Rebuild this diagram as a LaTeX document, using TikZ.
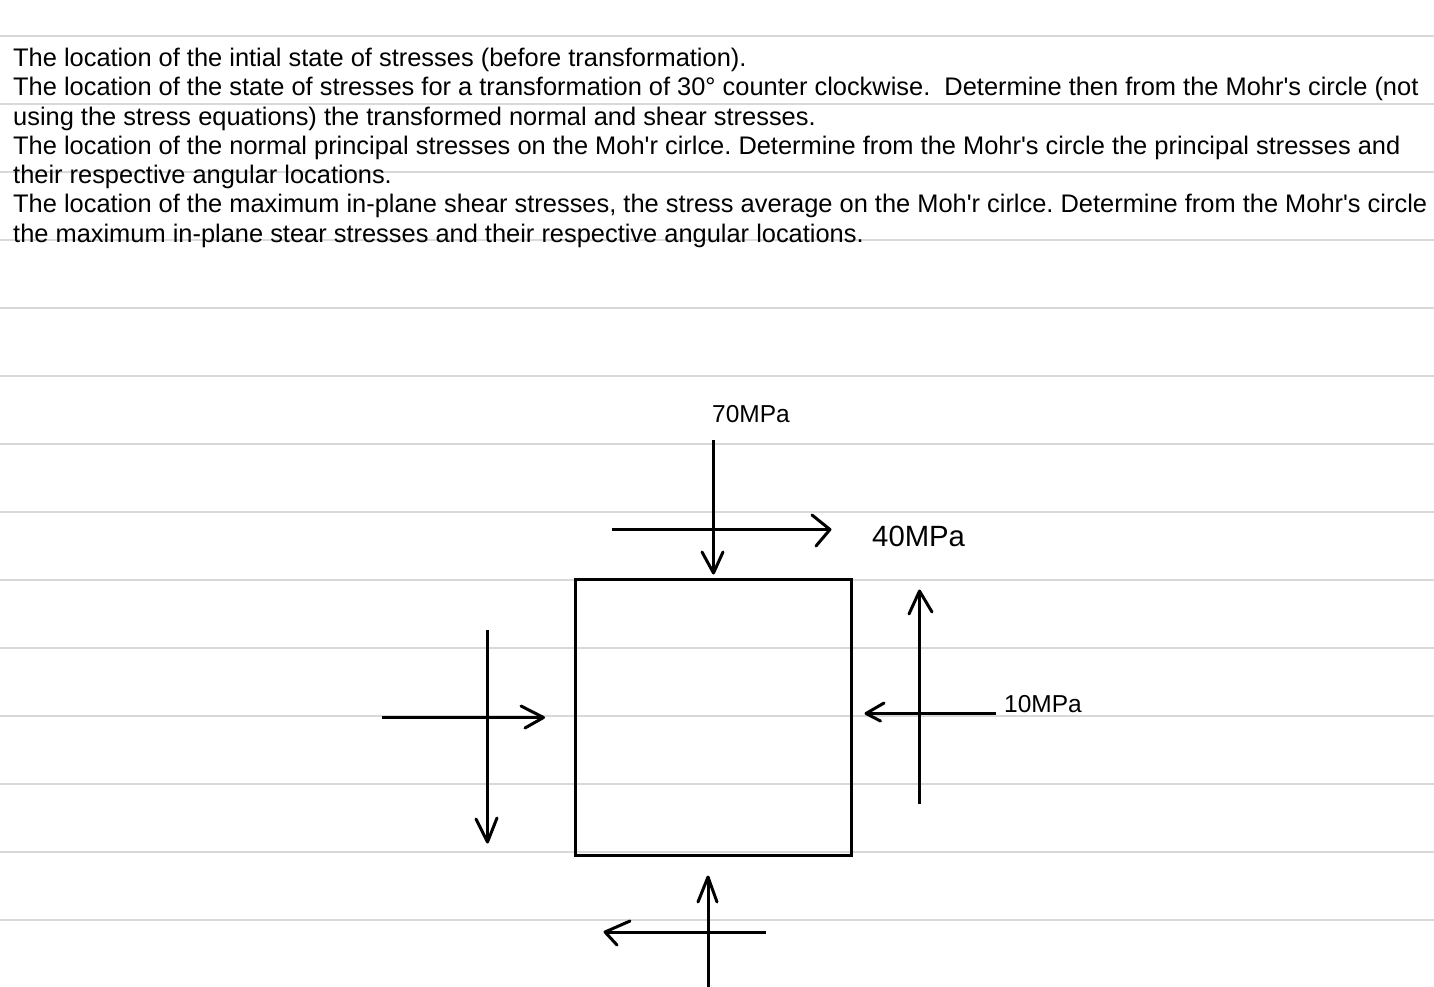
\documentclass[tikz,border=0pt]{standalone}
\usepackage{fontspec}
\newfontfamily\arialfont{Liberation Sans}
\usepackage{tikz}

\tikzset{
    ruling/.style={draw=black!15, line width=2pt},
    bodytext/.style={anchor=base west, inner sep=0pt, font=\arialfont\frenchspacing\fontsize{25.42}{29}\selectfont},
    smalllabel/.style={anchor=base west, inner sep=0pt, font=\arialfont\fontsize{24.5}{29}\selectfont},
    biglabel/.style={anchor=base west, inner sep=0pt, font=\arialfont\fontsize{29.3}{34}\selectfont},
    stressline/.style={line width=3pt},
    barb/.style={line width=3pt, line cap=round, line join=round}
}

\begin{document}
\begin{tikzpicture}[x=1pt, y=-1pt]
    \useasboundingbox (0,0) rectangle (1434,987);
    % Ruled lines
    \foreach \i in {0,...,13} {
        \draw[ruling] (0,36+68*\i) -- (1434,36+68*\i);
    }
    % Question text
    \foreach \i/\y/\txt in {
        1/67/{The location of the intial state of stresses (before transformation).},
        2/96/{The location of the state of stresses for a transformation of 30° counter clockwise.~ Determine then from the Mohr's circle (not},
        3/125.5/{using the stress equations) the transformed normal and shear stresses.},
        4/155/{The location of the normal principal stresses on the Moh'r cirlce. Determine from the Mohr's circle the principal stresses and},
        5/183.5/{their respective angular locations.},
        6/212.5/{The location of the maximum in-plane shear stresses, the stress average on the Moh'r cirlce. Determine from the Mohr's circle},
        7/242/{the maximum in-plane stear stresses and their respective angular locations.}} {
        \node[bodytext] (Line-\i) at (13,\y) {\txt};
    }
    % Element
    \node[draw, line width=3pt, minimum size=276pt, inner sep=0pt] (Element) at (713,717) {};
    % Labels
    \node[smalllabel] (Label-70) at (712,422.5) {70MPa};
    \node[biglabel] (Label-40) at (872,546) {40MPa};
    \node[smalllabel] (Label-10) at (1004,712) {10MPa};
    % Stress arrows: tail, tip, two barbs
    \foreach \i/\xt/\yt/\xh/\yh/\xa/\ya/\xb/\yb in {
        1/713.5/440/713.5/573/702/552/723/552,
        2/612/529.5/830/529.5/812/515/816/546,
        3/919.5/804/919.5/591/909/614/932/612,
        4/996/713.5/866/713.5/884/703/880.5/721,
        5/382/717.5/543.5/717.5/521/706/525/728,
        6/487.5/630/487.5/842/476/819/497/818,
        7/708/987/708/877/698/902/717/902,
        8/766/932/605/932/630/921/617/945} {
        \coordinate (Tail-\i) at (\xt,\yt);
        \coordinate (Tip-\i) at (\xh,\yh);
        \coordinate (BarbA-\i) at (\xa,\ya);
        \coordinate (BarbB-\i) at (\xb,\yb);
        \draw[stressline] (Tail-\i) -- (Tip-\i);
        \draw[barb] (BarbA-\i) -- (Tip-\i) -- (BarbB-\i);
    }
\end{tikzpicture}
\end{document}
